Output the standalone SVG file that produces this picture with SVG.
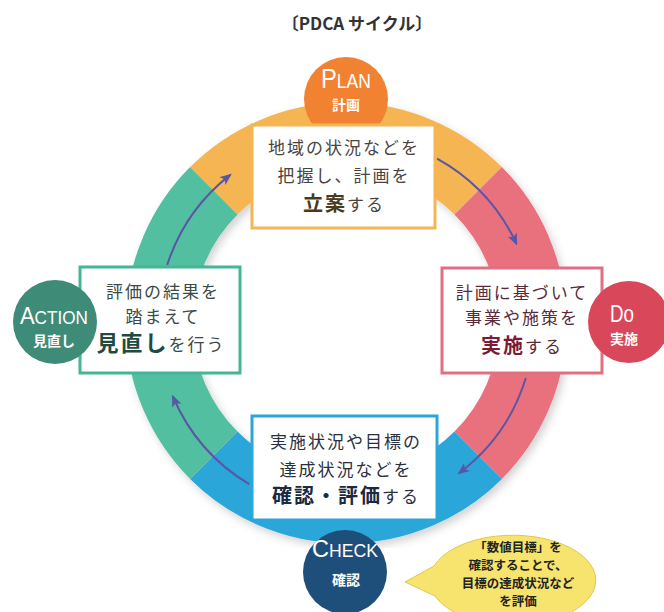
<svg xmlns="http://www.w3.org/2000/svg" width="664" height="612" viewBox="0 0 664 612">
<defs>
<style>
.jp{font-family:"Noto Sans CJK JP","Noto Sans",sans-serif;}
.lat{font-family:"Liberation Sans","DejaVu Sans",sans-serif;}
.seg{fill:none;stroke-width:67;stroke-linecap:butt;}
.box{fill:#fff;stroke-width:3;}
.arr{fill:none;stroke:#5A56A6;stroke-width:2;marker-end:url(#ah);}
.wt{fill:#fff;text-anchor:middle;}
.t{text-anchor:middle;font-size:17px;letter-spacing:2px;}
.co{text-anchor:middle;font-size:12.5px;font-weight:bold;fill:#222;}
</style>
<marker id="ah" viewBox="0 0 12 10" refX="10" refY="5" markerWidth="12" markerHeight="10" markerUnits="userSpaceOnUse" orient="auto">
<path d="M0,0 L12,5 L0,10 L3,5 Z" fill="#5A56A6"/>
</marker>
<filter id="sh" x="-10%" y="-10%" width="120%" height="120%">
<feDropShadow dx="3" dy="4" stdDeviation="4" flood-color="#000" flood-opacity="0.18"/>
</filter>
</defs>
<rect width="664" height="612" fill="#fff"/>
<text class="jp" x="357" y="30" text-anchor="middle" font-size="17" font-weight="bold" fill="#333">〔PDCA サイクル〕</text>

<g id="ring" filter="url(#sh)">
<path class="seg" stroke="#F5B553" d="M213.8,190.8 A187,187 0 0 1 478.2,190.8"/>
<path class="seg" stroke="#E8717D" d="M478.2,190.8 A187,187 0 0 1 478.2,455.2"/>
<path class="seg" stroke="#2BA6D9" d="M478.2,455.2 A187,187 0 0 1 213.8,455.2"/>
<path class="seg" stroke="#52BFA1" d="M213.8,455.2 A187,187 0 0 1 213.8,190.8"/>
</g>

<g id="connectors">
<path class="arr" d="M437.1,158.6 A188,188 0 0 1 516.4,243.6"/>
<path class="arr" d="M525.8,378 A188,188 0 0 1 459.1,473.1"/>
<path class="arr" d="M249.2,484.2 A188,188 0 0 1 172.9,396.5"/>
<path class="arr" d="M167.2,264.9 A188,188 0 0 1 230.2,174.9"/>
</g>

<g id="plan">
<circle cx="346" cy="99" r="42" fill="#F08232"/>
<text class="lat wt" x="346" y="88" textLength="50" lengthAdjust="spacingAndGlyphs"><tspan font-size="27">P</tspan><tspan font-size="20">LAN</tspan></text>
<text class="jp wt" x="346" y="110" font-size="14" font-weight="bold">計画</text>
<rect class="box" x="252" y="125" width="183" height="103" stroke="#F5B553"/>
<text class="jp t" x="344" y="154" fill="#4A4440" letter-spacing="1">地域の状況などを</text>
<text class="jp t" x="344" y="182" fill="#4A4440" letter-spacing="1">把握し、計画を</text>
<text class="jp t" x="344" y="211" fill="#4A4440" letter-spacing="1"><tspan font-size="20" font-weight="bold" fill="#4A3A1A">立案</tspan>する</text>
</g>

<g id="do">
<rect class="box" x="442" y="268" width="160" height="105" stroke="#E07080"/>
<text class="jp t" x="522" y="299" fill="#5A2A38">計画に基づいて</text>
<text class="jp t" x="522" y="324" fill="#5A2A38">事業や施策を</text>
<text class="jp t" x="522" y="353" fill="#5A2A38"><tspan font-size="20" font-weight="bold" fill="#7A1A35">実施</tspan>する</text>
<circle cx="629" cy="322" r="41" fill="#D9475A"/>
<text class="lat wt" x="622" y="322" font-size="24" textLength="24" lengthAdjust="spacingAndGlyphs">Do</text>
<text class="jp wt" x="624" y="344" font-size="14" font-weight="bold">実施</text>
</g>

<g id="action">
<rect class="box" x="80" y="267" width="160" height="106" stroke="#45B597"/>
<text class="jp t" x="163" y="298" fill="#3A4A48">評価の結果を</text>
<text class="jp t" x="163" y="323" fill="#3A4A48">踏まえて</text>
<text class="jp t" x="161" y="351" fill="#3A4A48" letter-spacing="0"><tspan font-size="22" font-weight="bold" fill="#1F4A42">見直し</tspan>を行う</text>
<circle cx="55" cy="322" r="42" fill="#3E8C78"/>
<text class="lat wt" x="54" y="324" textLength="68" lengthAdjust="spacingAndGlyphs"><tspan font-size="23">A</tspan><tspan font-size="18">CTION</tspan></text>
<text class="jp wt" x="54" y="346" font-size="14" font-weight="bold">見直し</text>
</g>

<g id="check">
<rect class="box" x="252" y="416" width="185" height="104" stroke="#2BA6D9"/>
<text class="jp t" x="346" y="448" fill="#2A3040">実施状況や目標の</text>
<text class="jp t" x="346" y="476" fill="#2A3040">達成状況などを</text>
<text class="jp t" x="346" y="503" fill="#2A3040" letter-spacing="0"><tspan font-size="20" font-weight="bold" fill="#1A2A40">確認・評価</tspan>する</text>
<circle cx="345" cy="572" r="42" fill="#1E4F7A"/>
<text class="lat wt" x="345" y="557" textLength="66" lengthAdjust="spacingAndGlyphs"><tspan font-size="24">C</tspan><tspan font-size="18">HECK</tspan></text>
<text class="jp wt" x="346" y="585" font-size="14" font-weight="bold">確認</text>
</g>

<g id="callout">
<path d="M434,566 L405,582 L435,596 A83,45 0 1 0 434,566 Z" fill="#F6E46E" stroke="#E2C84A" stroke-width="1"/>
<text class="jp co" x="518" y="552">「数値目標」を</text>
<text class="jp co" x="518" y="570">確認することで、</text>
<text class="jp co" x="518" y="588">目標の達成状況など</text>
<text class="jp co" x="518" y="606">を評価</text>
</g>
</svg>
